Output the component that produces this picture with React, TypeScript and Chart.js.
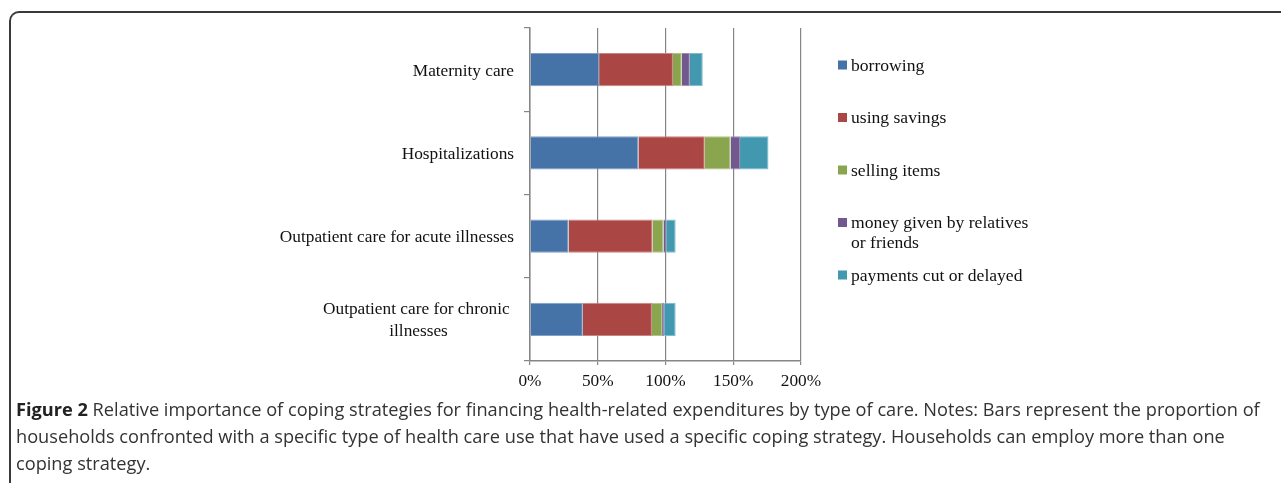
import React, { useEffect, useRef } from "react";
import { Chart, registerables } from "chart.js";

Chart.register(...registerables);

const categories: string[][] = [
  ["Maternity care"],
  ["Hospitalizations"],
  ["Outpatient care for acute illnesses"],
  ["Outpatient care for chronic ", "illnesses"],
];

const seriesNames: string[][] = [
  ["borrowing"],
  ["using savings"],
  ["selling items"],
  ["money given by relatives", "or friends"],
  ["payments cut or delayed"],
];

const borrowing = [51, 80, 28.5, 39];
const usingSavings = [54.5, 49, 62, 51];
const sellingItems = [6.5, 19, 8, 7.5];
const moneyGiven = [6, 7, 2, 1.5];
const paymentsCut = [9.5, 21, 7, 8.5];

const xTicks = [0, 50, 100, 150, 200];

const colors = ["#4572A7", "#AA4643", "#89A54E", "#71588F", "#4198AF"];
const edgeColors = ["#7FA0C8", "#C98482", "#AFC486", "#9C8AB3", "#7DBCCD"];

const serifFont = "'Liberation Serif', 'Times New Roman', serif";

const customLabels = {
  id: "customLabels",
  afterDraw(chart: any) {
    const { ctx, chartArea } = chart;
    const yScale = chart.scales.y;
    ctx.save();
    ctx.fillStyle = "#111";
    ctx.font = `17.3px ${serifFont}`;
    ctx.textBaseline = "middle";
    // category labels
    const right = chartArea.left - 16;
    categories.forEach((lines, i) => {
      const cy = yScale.getPixelForValue(i) + 1.5;
      const lh = 22;
      const widths = lines.map((l) => ctx.measureText(l).width);
      const blockW = Math.max(...widths);
      lines.forEach((l, j) => {
        const y = cy + (j - (lines.length - 1) / 2) * lh;
        if (lines.length === 1) {
          ctx.textAlign = "right";
          ctx.fillText(l, right, y);
        } else {
          ctx.textAlign = "center";
          ctx.fillText(l, right - blockW / 2, y);
        }
      });
    });
    // legend
    const lx = chartArea.right + 37;
    let ly = chartArea.top + 37;
    ctx.font = `17.6px ${serifFont}`;
    ctx.textAlign = "left";
    seriesNames.forEach((lines, i) => {
      ctx.fillStyle = colors[i];
      ctx.fillRect(lx, ly - 4.5, 9, 9);
      ctx.fillStyle = "#111";
      lines.forEach((l, j) => {
        ctx.fillText(l, lx + 13, ly + 1 + j * 20);
      });
      ly += 52.5;
    });
    ctx.restore();
  },
};

export default function App() {
  const canvasRef = useRef<HTMLCanvasElement | null>(null);

  useEffect(() => {
    document.body.style.margin = "0";
    const canvas = canvasRef.current;
    if (!canvas) return;
    const seriesData = [borrowing, usingSavings, sellingItems, moneyGiven, paymentsCut];
    const chart = new Chart(canvas, {
      type: "bar",
      data: {
        labels: categories.map((c) => c.join("")),
        datasets: seriesData.map((d, i) => ({
          label: seriesNames[i].join(" "),
          data: d,
          backgroundColor: colors[i],
          borderColor: edgeColors[i],
          borderWidth: 1,
          categoryPercentage: 1,
          barPercentage: 0.4,
        })),
      },
      options: {
        indexAxis: "y",
        responsive: false,
        animation: false,
        devicePixelRatio: 1,
        layout: { padding: { left: 510, right: 480, top: 28, bottom: 5 } },
        plugins: {
          legend: { display: false },
          tooltip: { enabled: false },
        },
        scales: {
          x: {
            stacked: true,
            min: 0,
            max: 200,
            afterBuildTicks: (scale: any) => {
              scale.ticks = xTicks.map((v) => ({ value: v }));
            },
            afterFit: (scale: any) => {
              scale.height = 34;
            },
            grid: {
              color: "#858585",
              lineWidth: 1.2,
              drawTicks: true,
              tickLength: 4,
            },
            border: { display: true, color: "#858585", width: 1.5 },
            ticks: {
              color: "#111",
              font: { family: serifFont, size: 17.3 },
              padding: 6,
              maxRotation: 0,
              callback: (v: any) => `${v}%`,
            },
          },
          y: {
            stacked: true,
            afterFit: (scale: any) => {
              scale.width = 20;
            },
            grid: {
              drawOnChartArea: false,
              drawTicks: true,
              tickLength: 6,
              color: "#858585",
              lineWidth: 1.2,
              offset: true,
            },
            border: { display: true, color: "#858585", width: 1.5 },
            ticks: { display: false },
          },
        },
      },
      plugins: [customLabels],
    });
    return () => chart.destroy();
  }, []);

  const captionStyle: React.CSSProperties = {
    position: "absolute",
    left: 16,
    top: 396,
    fontFamily: "'Open Sans', sans-serif",
    fontSize: 18.2,
    lineHeight: "27px",
    color: "#333",
    whiteSpace: "nowrap",
  };

  return (
    <div>
      <div
        style={{
          position: "absolute",
          left: 9,
          top: 11,
          width: 1290,
          height: 490,
          borderTop: "2px solid #3a3a3a",
          borderLeft: "2px solid #3a3a3a",
          borderTopLeftRadius: 10,
          boxSizing: "border-box",
        }}
      />
      <canvas
        ref={canvasRef}
        width={1281}
        height={400}
        style={{ position: "absolute", left: 0, top: 0, width: 1281, height: 400 }}
      />
      <div style={captionStyle}>
        <div>
          <b style={{ color: "#222" }}>Figure 2</b> Relative importance of coping strategies for financing health-related expenditures by type of care. Notes: Bars represent the proportion of
        </div>
        <div>
          households confronted with a specific type of health care use that have used a specific coping strategy. Households can employ more than one
        </div>
        <div>coping strategy.</div>
      </div>
    </div>
  );
}
